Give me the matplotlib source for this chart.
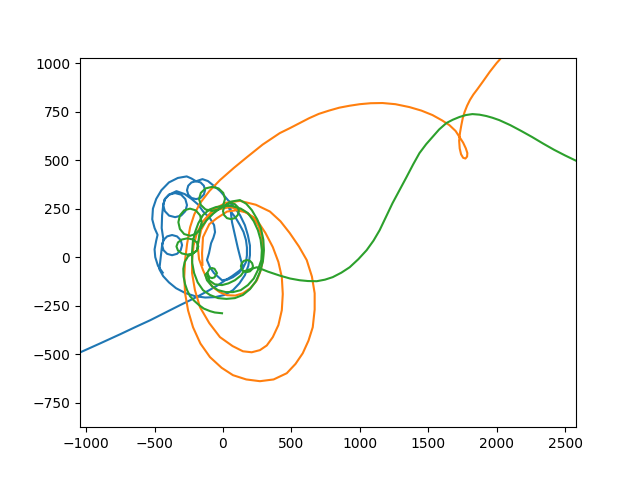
import numpy as np
import matplotlib
matplotlib.use("Agg")
import matplotlib.pyplot as plt

# body 1 (blue): loops near the centre, then thrown out to the lower left
blue_pts = [
    (-440, -80), (-475, -45), (-495, 0), (-500, 40), (-488, 85), (-478, 115), (-500, 150),
    (-517, 195), (-512, 250), (-488, 300),
    (-450, 345), (-395, 385), (-330, 408), (-265, 416), (-230, 405),
    (-197, 391), (-164, 385), (-140, 368), (-131, 345), (-140, 322), (-164, 305), (-197, 299),
    (-230, 305), (-254, 322), (-263, 345), (-254, 368), (-230, 385), (-197, 391),
    (-150, 402), (-110, 392), (-73, 371), (-20, 340), (36, 294), (85, 255), (124, 217),
    (160, 165), (182, 113), (197, 60), (197, 10), (185, -45), (160, -93), (120, -135),
    (73, -170), (10, -195), (-58, -206), (-130, -208), (-204, -201), (-275, -185),
    (-343, -160), (-395, -130), (-437, -98), (-465, -62), (-455, 0),
    (-445, 62), (-435, 88), (-408, 107), (-372, 114), (-336, 107), (-309, 88), (-299, 62),
    (-309, 36), (-336, 17), (-372, 10), (-408, 17), (-435, 36), (-445, 62), (-435, 88),
    (-448, 150), (-445, 215),
    (-437, 268), (-425, 299), (-394, 322), (-350, 330), (-306, 322), (-275, 299), (-263, 268),
    (-275, 237), (-306, 214), (-350, 206), (-394, 214), (-425, 237), (-437, 268), (-425, 299),
    (-394, 322), (-340, 340), (-280, 325), (-230, 300), (-180, 270), (-145, 235), (-95, 200),
    (-65, 165), (-58, 129), (-70, 100), (-87, 72), (-102, 21), (-117, -15), (-95, -52),
    (-66, -82), (-30, -105), (-7, -119), (35, -115), (73, -103), (115, -82), (146, -57),
    (168, -25), (175, 10), (175, 50), (168, 88), (150, 130), (124, 165), (95, 200), (66, 227),
    (45, 250), (36, 268), (45, 285), (62, 282), (66, 265), (55, 252), (60, 215), (66, 180),
    (77, 145), (87, 113), (98, 80), (109, 46), (120, 15), (131, -15), (140, -35), (146, -52),
    (120, -70), (66, -98), (15, -120), (-36, -144), (-100, -170), (-168, -196), (-240, -222),
    (-313, -247), (-420, -285), (-532, -325), (-640, -360), (-751, -397), (-900, -445),
    (-1042, -490), (-1115, -515),
]

# body 2 (orange): widening ellipses, then a long arc to the upper right
orange_pts = [
    (-150, -40), (-153, 21), (-146, 103), (-100, 170), (-44, 201), (30, 235), (102, 242),
    (170, 230), (219, 206), (260, 160), (284, 103), (295, 40), (292, -15), (275, -70),
    (248, -119), (200, -160), (146, -186), (90, -198), (29, -196), (-25, -180), (-73, -155),
    (-115, -115), (-146, -67), (-175, -10),
    (-185, 60), (-160, 140), (-110, 205), (-40, 245), (51, 258), (150, 240), (248, 191),
    (310, 125), (364, 52), (405, -25), (430, -103), (437, -190), (430, -273), (405, -350),
    (364, -412), (320, -455), (270, -479), (210, -490), (146, -485), (70, -458), (-22, -412),
    (-100, -340), (-168, -258), (-205, -170), (-226, -82), (-226, -15), (-215, 60),
    (-190, 125), (-146, 185),
    (-70, 245), (20, 280), (124, 290), (240, 270), (343, 235), (420, 185), (488, 124),
    (555, 55), (612, -15), (650, -100), (670, -186), (670, -270), (656, -361), (625, -430),
    (583, -495), (530, -550), (466, -598), (370, -630), (270, -639), (170, -630), (73, -608),
    (-10, -570), (-95, -515), (-165, -445), (-219, -361), (-255, -275), (-277, -186),
    (-283, -100), (-277, -15), (-262, 70), (-240, 155), (-210, 220), (-168, 278),
    (-100, 340), (-22, 397), (80, 460), (175, 515), (290, 580), (415, 639), (490, 665),
    (561, 691), (630, 716), (700, 738), (775, 755), (850, 770), (925, 780), (1000, 788),
    (1080, 793), (1166, 794), (1260, 788), (1363, 773), (1450, 755), (1531, 732), (1600, 705),
    (1655, 680), (1700, 650), (1728, 619), (1755, 590), (1775, 560), (1786, 536), (1784, 518),
    (1772, 508), (1755, 512), (1740, 530), (1730, 560), (1726, 600), (1732, 640), (1742, 680),
    (1752, 715), (1766, 748), (1784, 780), (1805, 810), (1830, 838), (1859, 865), (1900, 905),
    (1950, 955), (2000, 1000), (2019, 1015), (2070, 1060),
]

# body 3 (green): knotted loops, then a wave out to the right
green_pts = [
    (-7, -289), (-60, -285), (-95, -278), (-140, -265), (-175, -247), (-210, -225),
    (-241, -201), (-262, -170), (-277, -139), (-288, -100), (-290, -60), (-280, -25),
    (-255, 5),
    (-220, 19), (-191, 34), (-180, 55), (-191, 76), (-220, 91), (-260, 97), (-300, 91),
    (-329, 76), (-340, 55), (-329, 34), (-300, 19), (-260, 13), (-220, 19), (-191, 34),
    (-178, 90), (-167, 145),
    (-156, 180), (-167, 215), (-199, 241), (-241, 250), (-284, 241), (-315, 215), (-326, 180),
    (-315, 145), (-284, 119), (-241, 110), (-199, 119), (-167, 145), (-120, 190), (-70, 225),
    (-32, 246), (2, 269), (15, 300), (2, 331), (-32, 354), (-80, 362), (-128, 354),
    (-162, 331), (-175, 300), (-162, 269), (-128, 246), (-80, 238), (-32, 246), (2, 262),
    (8, 258), (29, 273), (58, 278), (87, 273), (108, 258), (116, 237), (108, 217), (87, 201),
    (58, 196), (29, 201), (8, 217), (0, 237), (8, 258), (50, 285),
    (124, 294), (170, 275), (211, 242), (250, 195), (277, 149), (295, 90), (299, 36),
    (292, -20), (270, -77), (240, -125), (197, -165), (145, -195), (87, -211), (25, -215),
    (-36, -211), (-95, -195), (-146, -170), (-185, -130), (-211, -82), (-225, -30), (-226, 26),
    (-220, 80), (-204, 129), (-180, 175), (-146, 217), (-100, 245), (-51, 258), (10, 265),
    (66, 263), (130, 250), (182, 227), (225, 185), (255, 139), (275, 90), (284, 36),
    (280, -15), (255, -67), (225, -110), (182, -144), (130, -170), (73, -180), (20, -180),
    (-36, -170), (-80, -150), (-117, -119), (-130, -90),
    (-116, -82), (-98, -104), (-80, -108), (-62, -104), (-44, -82), (-62, -60), (-80, -56),
    (-98, -60), (-116, -82), (-100, -120), (-60, -140), (-7, -144), (40, -135), (87, -119),
    (130, -95),
    (153, -73), (175, -77), (197, -73), (213, -62), (219, -46), (213, -31), (197, -19),
    (175, -15), (153, -19), (137, -31), (131, -46), (137, -62), (153, -73), (200, -62),
    (248, -52), (330, -75), (415, -95), (490, -110), (561, -119), (620, -123), (685, -124),
    (745, -116), (802, -103), (865, -80), (926, -52), (990, -10), (1050, 36), (1100, 85),
    (1145, 139), (1190, 205), (1239, 278), (1290, 345), (1341, 412), (1390, 478), (1436, 536),
    (1485, 582), (1531, 619), (1580, 658), (1633, 691), (1680, 708), (1728, 722), (1775, 732),
    (1823, 737), (1875, 734), (1925, 727), (1970, 718), (2019, 706), (2100, 680), (2180, 650),
    (2259, 619), (2340, 585), (2420, 553), (2500, 524), (2600, 490),
]

blue = np.array(blue_pts)
orange = np.array(orange_pts)
green = np.array(green_pts)

fig, ax = plt.subplots()
ax.plot(blue[:, 0], blue[:, 1])
ax.plot(orange[:, 0], orange[:, 1])
ax.plot(green[:, 0], green[:, 1])
ax.set_xlim(-1045, 2580)
ax.set_ylim(-876, 1028)
fig.savefig("out.png")
